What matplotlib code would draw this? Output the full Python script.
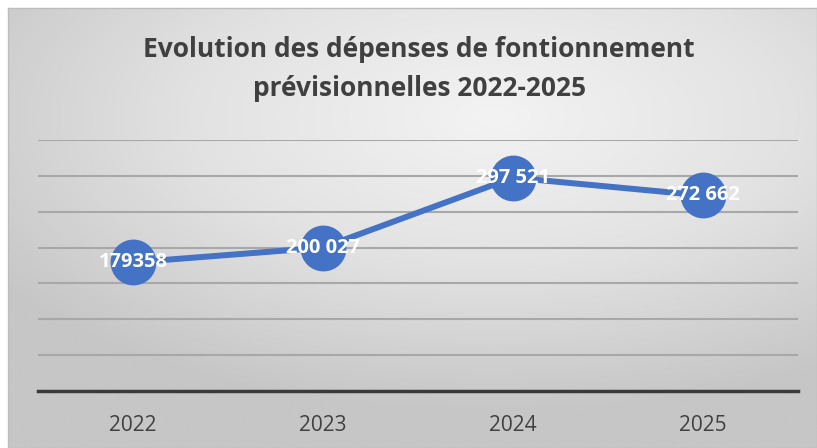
import numpy as np
import matplotlib.pyplot as plt
from matplotlib.colors import LinearSegmentedColormap

years = ['2022', '2023', '2024', '2025']
depenses = [179358, 200027, 297521, 272662]
labels = ['179358', '200 027', '297 521', '272 662']
title = 'Evolution des dépenses de fontionnement\nprévisionnelles 2022-2025'

plt.rcParams['font.family'] = ['Open Sans', 'DejaVu Sans']

fig = plt.figure(figsize=(8.17, 4.48), dpi=100)
fig.patch.set_facecolor('white')

# panel background with radial grey gradient
bg = fig.add_axes([8 / 817, 0, 809 / 817, 440 / 448])
gx, gy = np.meshgrid(np.linspace(0, 1, 400), np.linspace(0, 1, 250))
d = np.sqrt(((gx - 0.6) / 1.0) ** 2 + ((gy - 0.25) / 0.9) ** 2)
d = np.clip(d / 0.75, 0, 1)
cmap = LinearSegmentedColormap.from_list('g', ['#f3f3f3', '#e2e2e2', '#c6c6c6'])
bg.imshow(d, cmap=cmap, aspect='auto', extent=[0, 1, 0, 1], origin='upper')
bg.set_xlim(0, 1)
bg.set_ylim(0, 1)
bg.set_xticks([])
bg.set_yticks([])
for s in bg.spines.values():
    s.set_color('#bdbdbd')
    s.set_linewidth(1)

ax = fig.add_axes([38 / 817, 1 - 391 / 448, 760 / 817, 251 / 448])
ax.patch.set_alpha(0)
x = np.arange(len(years))
ax.plot(x, depenses, color='#4472C4', lw=4.3, marker='o', markersize=32,
        solid_capstyle='round', zorder=3)
for xi, v, lab in zip(x, depenses, labels):
    ax.text(xi, v, lab, ha='center', va='center', color='white',
            fontsize=14.5, fontweight='bold', zorder=4)

ax.set_xlim(-0.5, 3.5)
ax.set_ylim(0, 350000)
ax.set_yticks(np.arange(50000, 350001, 50000))
ax.yaxis.grid(True, color='#a8a8a8', lw=1.5)
ax.tick_params(axis='y', length=0, labelleft=False)
ax.set_xticks(x)
ax.set_xticklabels(years, fontsize=15, color='#404040')
ax.tick_params(axis='x', length=0, pad=17)
for s in ['top', 'right', 'left']:
    ax.spines[s].set_visible(False)
ax.spines['bottom'].set_color('#3a3a3a')
ax.spines['bottom'].set_linewidth(2.5)
ax.set_axisbelow(True)

fig.text(0.513, 1 - 69 / 448, title, ha='center', va='center', fontsize=19,
         fontweight='bold', color='#404040', linespacing=1.55)

fig.savefig('out.png', dpi=100)
